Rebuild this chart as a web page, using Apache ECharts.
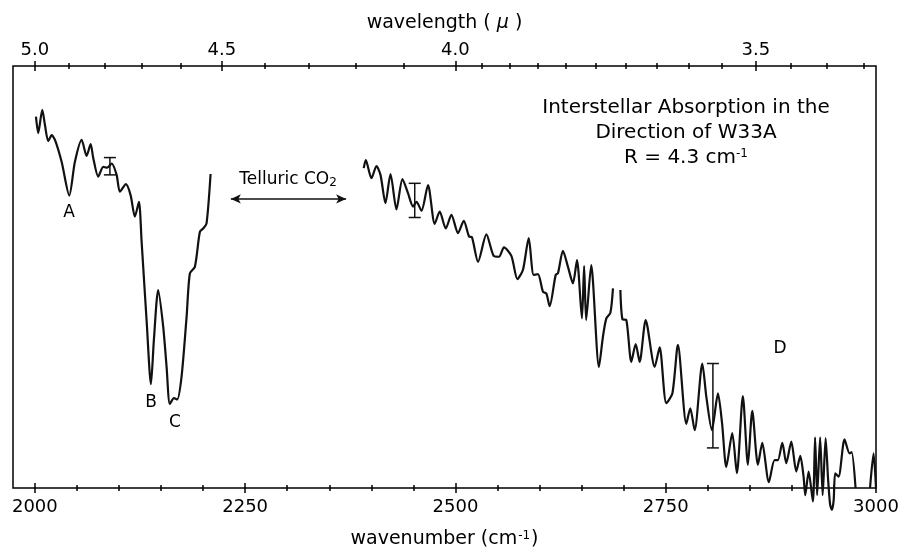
<!DOCTYPE html>
<html>
<head>
<meta charset="utf-8">
<title>W33A absorption</title>
<script src="https://cdn.jsdelivr.net/npm/echarts@6/dist/echarts.min.js"></script>
<style>
html,body{margin:0;padding:0;background:#fff;}
#chart{width:904px;height:555px;}
</style>
</head>
<body>
<div id="chart"></div>
<script>
// spectrum (wavenumber cm-1 / relative intensity 0..100)
var seg1Wn = [2001.3,2004.0,2008.8,2012.0,2015.9,2020.0,2023.9,2031.8,2040.9,2047.6,
    2055.6,2061.5,2066.3,2069.4,2075.3,2081.3,2086.0,2091.3,2097.2,2101.1,
    2108.2,2113.8,2118.9,2123.7,2126.9,2128.8,2132.8,2138.0,2141.5,2146.6,
    2152.6,2156.6,2160.5,2165.3,2169.2,2174.4,2180.4,2184.3,2190.2,2196.2,
    2200.1,2204.1,2208.9];
var seg1Val = [88.0,84.1,89.6,86.0,82.2,83.6,82.5,77.3,69.3,77.3,
    82.5,78.7,81.5,78.2,73.8,76.1,75.9,76.9,74.2,70.2,
    72.0,69.4,64.3,67.8,58.4,52.4,39.8,24.6,35.1,46.9,
    38.2,28.7,19.9,21.3,21.0,26.4,40.6,50.9,52.4,60.7,
    61.5,62.7,74.4];

var seg2Wn = [2391.0,2393.4,2400.2,2406.1,2410.9,2416.8,2422.8,2429.9,2437.0,2443.7,
    2449.6,2453.7,2459.6,2467.4,2475.4,2481.3,2488.5,2495.2,2503.1,2509.9,
    2516.2,2519.7,2526.9,2536.8,2545.5,2551.8,2557.7,2566.5,2573.7,2580.3,
    2587.1,2593.0,2598.1,2604.1,2608.1,2612.0,2619.2,2621.9,2627.8,2633.8,
    2639.7,2644.5,2650.4,2653.0,2655.4,2661.4,2670.6,2675.4,2679.4,2684.2,
    2687.3];
var seg2Val = [75.8,77.7,73.4,76.3,74.2,67.5,74.4,66.0,73.2,69.8,
    66.7,67.8,65.7,71.8,62.6,65.5,61.5,64.7,60.4,63.3,
    59.6,59.4,53.6,60.1,55.0,54.8,57.0,55.0,49.5,51.7,
    59.2,50.5,50.7,46.5,46.1,43.1,50.5,50.9,56.2,52.4,
    48.5,54.0,40.2,52.6,39.8,52.8,28.7,35.9,40.2,41.5,
    47.3];

var seg3Wn = [2696.1,2698.5,2703.2,2709.1,2714.3,2719.0,2726.2,2736.9,2742.8,2750.7,
    2757.9,2764.5,2774.5,2779.2,2784.4,2793.5,2798.3,2804.9,2812.1,2817.0,
    2822.0,2829.1,2834.6,2841.7,2847.7,2852.9,2859.6,2864.8,2872.6,2879.4,
    2883.3,2888.6,2893.3,2899.3,2905.2,2910.0,2913.9,2915.9,2919.9,2925.0,
    2927.6,2930.0,2933.6,2936.6,2940.1,2943.1,2945.5,2947.6,2949.7,2951.5,
    2955.5,2962.6,2968.6,2971.0,2975.7];
var seg3Val = [46.9,40.0,39.8,29.9,34.1,29.9,39.8,28.7,33.3,20.1,
    22.4,33.9,15.2,18.9,13.7,29.5,21.6,13.7,22.4,15.3,
    5.0,13.0,3.5,21.8,5.5,18.3,5.5,10.7,1.4,6.6,
    6.6,10.7,5.9,11.0,3.9,7.6,2.7,-1.7,3.9,-3.2,
    12.0,-1.7,12.0,-1.7,11.8,1.9,-4.0,-5.2,-2.8,3.5,
    2.7,11.5,8.2,8.5,0.0];

var seg4Wn = [2992.9,2997.1,3000.0];
var seg4Val = [0.0,8.2,0.0];

// error bars
var errWn = [2089.2,2451.6,2806.1];
var errLo = [74.2,64.1,9.5];
var errHi = [78.3,72.2,29.5];

// axes
var wnTicks = [2000,2050,2100,2150,2200,2250,2300,2350,2400,2450,2500,
    2550,2600,2650,2700,2750,2800,2850,2900,2950,3000];
var wnLabels = [2000,2250,2500,2750,3000];
var wlTicks = [5.0,4.9,4.8,4.7,4.6,4.5,4.4,4.3,4.2,4.1,4.0,3.95,3.9,3.85,3.8,
    3.75,3.7,3.65,3.6,3.55,3.5,3.45,3.4,3.35];
var wlLabels = [5.0,4.5,4.0,3.5];

var FONT = '"DejaVu Sans", sans-serif';
var AX_MIN = 1974, AX_MAX = 3000;

function toWn(arr){
    return arr.map(function(l){ return 1e4 / l; });
}
function pairs(xs, ys){
    var out = [];
    for (var i = 0; i < xs.length; i++) out.push([xs[i], ys[i]]);
    return out;
}
function tickAxis(pos, ticks, len, inside, labels, fmt){
    var ax = {
        type: 'value', position: pos, min: AX_MIN, max: AX_MAX,
        axisLine: {show: false, onZero: false},
        splitLine: {show: false},
        axisTick: {show: true, customValues: ticks, length: len, inside: inside,
            lineStyle: {color: '#000', width: 1.5}},
        axisLabel: {show: false}
    };
    if (labels) {
        ax.axisLabel = {show: true, customValues: labels, formatter: fmt,
            color: '#000', fontFamily: FONT, fontSize: 18,
            margin: pos == 'bottom' ? 10 : 7};
    }
    return ax;
}

var bottomMain = tickAxis('bottom', wnLabels, 5, true, wnLabels, function(v){ return String(Math.round(v)); });
bottomMain.name = '{a|wavenumber (cm}{s|-1}{a|)}';
bottomMain.nameLocation = 'middle';
bottomMain.nameGap = 42;
bottomMain.nameTextStyle = {rich: {
    a: {fontFamily: FONT, fontSize: 19, color: '#000'},
    s: {fontFamily: FONT, fontSize: 12, color: '#000', verticalAlign: 'top', padding: [0, 1, 0, 1]}
}};

var topMain = tickAxis('top', toWn(wlLabels), 5, true, toWn(wlLabels), function(v){ return (1e4 / v).toFixed(1); });
topMain.name = '{a|wavelength ( }{m|μ}{a| )}';
topMain.nameLocation = 'middle';
topMain.nameGap = 33;
topMain.nameTextStyle = {rich: {
    a: {fontFamily: FONT, fontSize: 19, color: '#000'},
    m: {fontFamily: FONT, fontSize: 19, color: '#000', fontStyle: 'italic'}
}};

var lineStyle = {color: '#111', width: 2.2};
function segSeries(xs, ys){
    return {
        type: 'line', xAxisIndex: 0, yAxisIndex: 0,
        data: pairs(xs, ys), symbol: 'none', smooth: 0.25,
        clip: false, lineStyle: lineStyle, silent: true
    };
}

var chart = echarts.init(document.getElementById('chart'));
var option = {
    animation: false,
    backgroundColor: '#fff',
    grid: {left: 13, right: 28, top: 66, bottom: 67, show: true,
        borderColor: '#000', borderWidth: 1.5, containLabel: false, outerBoundsMode: 'none'},
    xAxis: [
        bottomMain,
        tickAxis('bottom', wnLabels, 5, false),
        tickAxis('bottom', wnTicks, 3, true),
        tickAxis('bottom', wnTicks, 3, false),
        topMain,
        tickAxis('top', toWn(wlLabels), 5, false),
        tickAxis('top', toWn(wlTicks), 3, true),
        tickAxis('top', toWn(wlTicks), 3, false)
    ],
    yAxis: {type: 'value', min: 0, max: 100, show: false},
    series: [
        segSeries(seg1Wn, seg1Val),
        segSeries(seg2Wn, seg2Val),
        segSeries(seg3Wn, seg3Val),
        segSeries(seg4Wn, seg4Val),
        {
            type: 'custom', xAxisIndex: 0, yAxisIndex: 0, silent: true,
            data: errWn.map(function(w, i){ return [w, errLo[i], errHi[i]]; }),
            encode: {x: 0, y: [1, 2]},
            renderItem: function(params, api){
                var lo = api.coord([api.value(0), api.value(1)]);
                var hi = api.coord([api.value(0), api.value(2)]);
                var st = {stroke: '#111', lineWidth: 1.5};
                return {type: 'group', children: [
                    {type: 'line', shape: {x1: lo[0], y1: lo[1], x2: hi[0], y2: hi[1]}, style: st},
                    {type: 'line', shape: {x1: lo[0] - 6, y1: lo[1], x2: lo[0] + 6, y2: lo[1]}, style: st},
                    {type: 'line', shape: {x1: hi[0] - 6, y1: hi[1], x2: hi[0] + 6, y2: hi[1]}, style: st}
                ]};
            }
        },
        {
            // telluric CO2 arrow
            type: 'line', data: [], xAxisIndex: 0, yAxisIndex: 0,
            markLine: {
                silent: true, symbol: ['arrow', 'arrow'], symbolSize: [7, 10],
                label: {show: false},
                lineStyle: {color: '#111', width: 1.5, type: 'solid'},
                data: [[{coord: [2233, 68.5]}, {coord: [2370, 68.5]}]]
            }
        }
    ],
    graphic: [
        {type: 'text', x: 686, y: 108, style: {text: 'Interstellar Absorption in the', font: '20px ' + FONT, fill: '#000', align: 'center', verticalAlign: 'middle'}},
        {type: 'text', x: 686, y: 133, style: {text: 'Direction of W33A', font: '20px ' + FONT, fill: '#000', align: 'center', verticalAlign: 'middle'}},
        {type: 'text', x: 686, y: 158, style: {text: '{a|R = 4.3 cm}{s|-1}', align: 'center', verticalAlign: 'middle',
            rich: {a: {fontFamily: FONT, fontSize: 20, fill: '#000'}, s: {fontFamily: FONT, fontSize: 12, fill: '#000', verticalAlign: 'top'}}}},
        {type: 'text', x: 288, y: 180, style: {text: '{a|Telluric CO}{s|2}', align: 'center', verticalAlign: 'middle',
            rich: {a: {fontFamily: FONT, fontSize: 17, fill: '#000'}, s: {fontFamily: FONT, fontSize: 12, fill: '#000', verticalAlign: 'bottom'}}}},
        {type: 'text', x: 69, y: 213, style: {text: 'A', font: '17px ' + FONT, fill: '#000', align: 'center', verticalAlign: 'middle'}},
        {type: 'text', x: 151, y: 403, style: {text: 'B', font: '17px ' + FONT, fill: '#000', align: 'center', verticalAlign: 'middle'}},
        {type: 'text', x: 175, y: 423, style: {text: 'C', font: '17px ' + FONT, fill: '#000', align: 'center', verticalAlign: 'middle'}},
        {type: 'text', x: 780, y: 349, style: {text: 'D', font: '17px ' + FONT, fill: '#000', align: 'center', verticalAlign: 'middle'}}
    ]
};
chart.setOption(option);
</script>
</body>
</html>
